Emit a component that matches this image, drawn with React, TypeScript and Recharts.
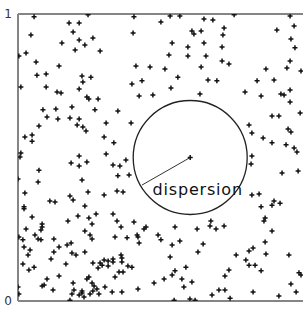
import { ReferenceDot, ReferenceLine, Scatter, ScatterChart, XAxis, YAxis } from "recharts";

// samples, [x, y] in unit-square coordinates
const topBand: [number, number][] = [
  [0.056, 0.99], [0.244, 0.997], [0.178, 0.969], [0.213, 0.969], [0.045, 0.927], [0.192, 0.937],
  [0.261, 0.916], [0.153, 0.899], [0.213, 0.909], [0.233, 0.892], [0.199, 0.875], [0.286, 0.871],
  [0.028, 0.864], [0.003, 0.854], [0.063, 0.833], [0.143, 0.819], [0.066, 0.787], [0.098, 0.791],
  [0.223, 0.784], [0.254, 0.78], [0.226, 0.763], [0.01, 0.746], [0.098, 0.746], [0.213, 0.739],
  [0.136, 0.728], [0.15, 0.725], [0.24, 0.711], [0.247, 0.704], [0.279, 0.704],
  [0.404, 0.99], [0.53, 0.993], [0.564, 0.993], [0.498, 0.972], [0.401, 0.934], [0.606, 0.941],
  [0.613, 0.93], [0.638, 0.941], [0.537, 0.899], [0.592, 0.885], [0.526, 0.857], [0.592, 0.854],
  [0.411, 0.819], [0.46, 0.815], [0.512, 0.808], [0.638, 0.815], [0.557, 0.78], [0.397, 0.756],
  [0.432, 0.767], [0.533, 0.742], [0.422, 0.714], [0.47, 0.718], [0.634, 0.721],
  [0.648, 0.983], [0.679, 0.979], [0.753, 0.997], [0.948, 0.993], [0.718, 0.951], [0.962, 0.958],
  [0.902, 0.944], [0.714, 0.927], [0.951, 0.913], [0.648, 0.899], [0.711, 0.885], [0.965, 0.882],
  [0.655, 0.854], [0.711, 0.836], [0.735, 0.826], [0.948, 0.836], [0.864, 0.808], [0.937, 0.812],
  [0.986, 0.801], [0.662, 0.77], [0.693, 0.767], [0.833, 0.767], [0.892, 0.77], [0.791, 0.728],
  [0.847, 0.714], [0.916, 0.721], [0.927, 0.718], [0.948, 0.735], [0.948, 0.693]
];

const middleBand: [number, number][] = [
  [0.087, 0.666], [0.132, 0.669], [0.188, 0.676], [0.268, 0.666], [0.101, 0.641], [0.139, 0.634],
  [0.181, 0.638], [0.213, 0.634], [0.206, 0.613], [0.226, 0.606], [0.237, 0.592], [0.073, 0.61],
  [0.024, 0.571], [0.049, 0.578], [0.049, 0.557], [0.01, 0.516], [0.007, 0.502], [0.213, 0.505],
  [0.185, 0.481], [0.213, 0.47], [0.24, 0.484], [0.073, 0.456], [0.07, 0.415], [0.223, 0.422],
  [0.024, 0.376], [0.244, 0.38], [0.181, 0.366], [0.192, 0.352], [0.111, 0.348], [0.129, 0.345],
  [0.233, 0.331], [0.021, 0.328], [0.0, 0.425],
  [0.348, 0.662], [0.307, 0.62], [0.394, 0.62], [0.3, 0.571], [0.334, 0.551], [0.307, 0.512],
  [0.331, 0.474], [0.355, 0.47], [0.376, 0.491], [0.348, 0.436], [0.387, 0.439], [0.3, 0.369],
  [0.345, 0.383], [0.366, 0.38], [0.6, 0.5],
  [0.885, 0.645], [0.909, 0.645], [0.983, 0.655], [0.805, 0.613], [0.815, 0.585], [0.941, 0.599],
  [0.951, 0.589], [0.854, 0.568], [0.885, 0.551], [0.934, 0.544], [0.962, 0.533], [0.972, 0.519],
  [0.815, 0.505], [0.812, 0.477], [0.92, 0.446], [0.976, 0.453], [0.815, 0.369], [0.84, 0.373],
  [0.847, 0.328], [0.892, 0.348], [0.913, 0.341], [0.885, 0.334]
];

const bottomBand: [number, number][] = [
  [0.021, 0.321], [0.049, 0.293], [0.084, 0.268], [0.084, 0.258], [0.08, 0.247], [0.028, 0.251],
  [0.174, 0.279], [0.209, 0.296], [0.247, 0.289], [0.272, 0.303], [0.258, 0.268], [0.003, 0.223],
  [0.017, 0.213], [0.059, 0.23], [0.07, 0.216], [0.08, 0.213], [0.125, 0.216], [0.021, 0.188],
  [0.042, 0.178], [0.035, 0.16], [0.017, 0.129], [0.038, 0.108], [0.056, 0.118], [0.115, 0.146],
  [0.125, 0.171], [0.143, 0.188], [0.171, 0.195], [0.185, 0.202], [0.188, 0.167], [0.202, 0.16],
  [0.233, 0.171], [0.167, 0.129], [0.233, 0.244], [0.251, 0.23], [0.258, 0.216], [0.261, 0.132],
  [0.279, 0.115], [0.286, 0.132], [0.143, 0.087], [0.101, 0.077], [0.084, 0.052], [0.091, 0.056],
  [0.122, 0.038], [0.0, 0.049], [0.003, 0.024], [0.192, 0.063], [0.195, 0.038], [0.188, 0.024],
  [0.213, 0.021], [0.223, 0.028], [0.181, 0.003], [0.24, 0.077], [0.247, 0.084], [0.258, 0.063],
  [0.265, 0.052], [0.261, 0.035], [0.275, 0.042], [0.282, 0.024], [0.251, 0.024], [0.23, 0.014],
  [0.223, 0.035],
  [0.331, 0.303], [0.345, 0.279], [0.359, 0.258], [0.404, 0.275], [0.338, 0.223], [0.38, 0.22],
  [0.415, 0.23], [0.418, 0.223], [0.422, 0.202], [0.439, 0.251], [0.446, 0.258], [0.488, 0.23],
  [0.498, 0.213], [0.547, 0.258], [0.624, 0.251], [0.537, 0.195], [0.564, 0.209], [0.53, 0.153],
  [0.627, 0.171], [0.3, 0.143], [0.314, 0.139], [0.331, 0.146], [0.359, 0.16], [0.362, 0.15],
  [0.362, 0.136], [0.331, 0.136], [0.314, 0.122], [0.293, 0.125], [0.383, 0.122], [0.397, 0.118],
  [0.352, 0.101], [0.366, 0.101], [0.338, 0.084], [0.303, 0.049], [0.328, 0.031], [0.362, 0.031],
  [0.418, 0.042], [0.474, 0.063], [0.509, 0.077], [0.537, 0.091], [0.547, 0.105], [0.571, 0.077],
  [0.585, 0.118], [0.578, 0.049], [0.606, 0.066], [0.544, 0.003], [0.599, 0.007], [0.617, 0.003],
  [0.672, 0.279], [0.669, 0.261], [0.69, 0.251], [0.718, 0.261], [0.861, 0.289], [0.857, 0.279],
  [0.885, 0.244], [0.645, 0.199], [0.861, 0.206], [0.864, 0.164], [0.76, 0.16], [0.805, 0.174],
  [0.819, 0.185], [0.794, 0.143], [0.805, 0.125], [0.826, 0.125], [0.847, 0.105], [0.944, 0.16],
  [0.735, 0.108], [0.721, 0.087], [0.979, 0.098], [0.986, 0.091], [0.951, 0.059], [0.969, 0.031],
  [0.7, 0.038], [0.721, 0.038], [0.676, 0.021], [0.739, 0.01], [0.819, 0.031], [0.909, 0.017]
];

const center = { x: 0.6, y: 0.5 };
const edgePoint = { x: 0.432, y: 0.404 };
const yTicks = [0, 1];

const points = [...topBand, ...middleBand, ...bottomBand].map(([x, y]) => ({ x, y }));

function Cross(props: any) {
  const { cx, cy } = props;
  if (cx == null || cy == null) return null;
  return (
    <path
      d={`M${cx - 2.5},${cy}h5M${cx},${cy - 2.5}v5`}
      stroke="#111"
      strokeWidth={1.5}
      fill="none"
    />
  );
}

export default function App() {
  return (
    <div style={{ position: "absolute", left: 0, top: 0, width: 303, height: 312, overflow: "hidden", background: "#fff" }}>
      <ScatterChart width={305} height={312} margin={{ top: 14, right: 0, bottom: 11, left: 0 }}>
        <XAxis type="number" dataKey="x" domain={[0, 1]} hide allowDataOverflow />
        <YAxis
          type="number"
          dataKey="y"
          domain={[0, 1]}
          ticks={yTicks}
          width={18}
          tickSize={0}
          tickMargin={6}
          tickLine={false}
          axisLine={{ stroke: "#858585", strokeWidth: 2 }}
          tick={{ fill: "#333", fontSize: 12, fontFamily: "DejaVu Sans" }}
          allowDataOverflow
        />
        <ReferenceLine y={0} stroke="#858585" strokeWidth={2} ifOverflow="extendDomain" />
        <ReferenceLine y={1} stroke="#858585" strokeWidth={2} ifOverflow="extendDomain" />
        <ReferenceDot x={center.x} y={center.y} r={57} fill="none" stroke="#222" strokeWidth={1.3} />
        <ReferenceLine segment={[center, edgePoint]} stroke="#333" strokeWidth={1} />
        <ReferenceDot
          x={0.469}
          y={0.369}
          r={0}
          shape={(p: any) => (
            <text x={p.cx} y={p.cy} fill="#111" fontSize={16} letterSpacing={0.8} fontFamily="DejaVu Sans">
              dispersion
            </text>
          )}
        />
        <Scatter data={points} shape={Cross} isAnimationActive={false} />
      </ScatterChart>
    </div>
  );
}
